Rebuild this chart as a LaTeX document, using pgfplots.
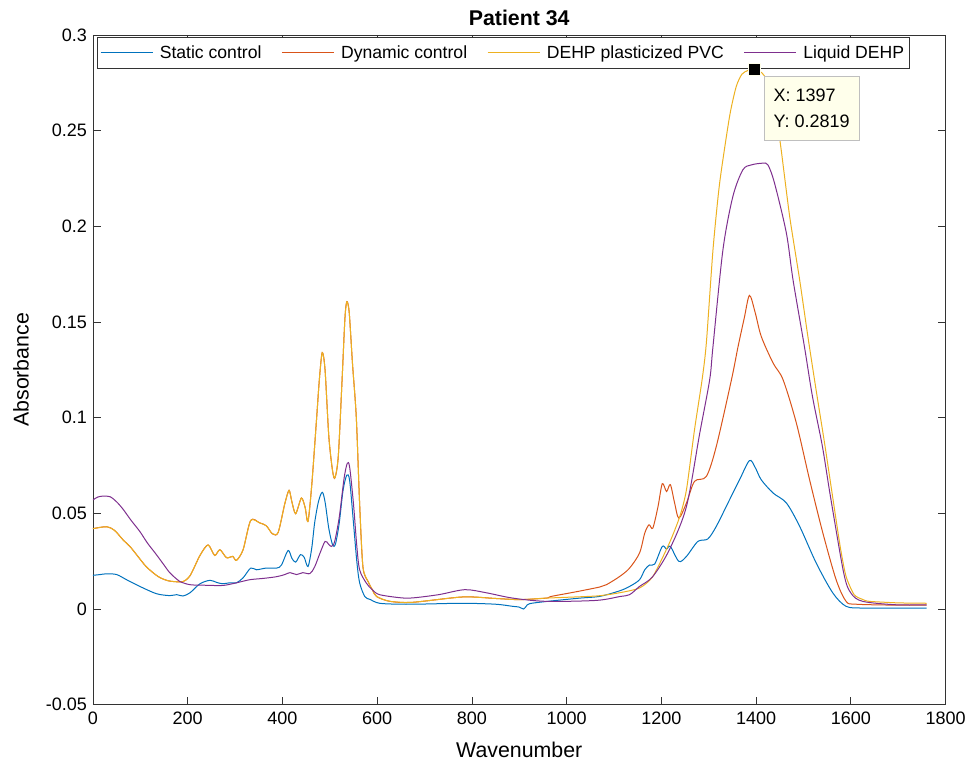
\documentclass[border=0pt]{standalone}
\usepackage{fontspec}
\setmainfont{Liberation Sans}
\usepackage{pgfplots}
\pgfplotsset{compat=1.18}
\definecolor{mblue}{rgb}{0,0.447,0.741}
\definecolor{mred}{rgb}{0.85,0.325,0.098}
\definecolor{morange}{rgb}{0.929,0.694,0.125}
\definecolor{mpurple}{rgb}{0.494,0.184,0.556}
\definecolor{tipfill}{rgb}{1,1,0.92}
\pgfdeclarelayer{tip}
\pgfplotsset{
  layers/tiplayers/.define layer set={axis background,axis grid,axis ticks,axis lines,axis tick labels,pre main,main,axis descriptions,axis foreground,tip}{},
  lgimg/.style={legend image code/.code={\draw[draw=#1, line width=0.75pt] (7pt,0pt) -- (46pt,0pt);}}}
\begin{document}
\begin{tikzpicture}
\path (-69.75pt,-48pt) rectangle (657.75pt,528.75pt);
\begin{axis}[
  set layers=tiplayers, clip mode=individual,
  scale only axis, width=639.75pt, height=502.5pt,
  xmin=0, xmax=1800, ymin=-0.05, ymax=0.3,
  xtick={0,200,400,600,800,1000,1200,1400,1600,1800},
  xticklabels={0,200,400,600,800,1000,1200,1400,1600,1800},
  ytick={-0.05,0,0.05,0.1,0.15,0.2,0.25,0.3},
  yticklabels={-0.05,0,0.05,0.1,0.15,0.2,0.25,0.3},
  tick align=inside, tick pos=both, major tick length=6pt,
  tick style={color=black!80, line width=0.5pt},
  axis line style={color=black!80, line width=0.6pt},
  ticklabel style={font=\fontsize{13.5}{16}\selectfont},
  xticklabel style={yshift=-2pt},
  yticklabel style={xshift=-1pt},
  xlabel={Wavenumber}, ylabel={Absorbance},
  every axis x label/.style={at={(axis description cs:0.5,0)}, anchor=center, yshift=-34pt, font=\fontsize{16}{19}\selectfont},
  every axis y label/.style={at={(axis description cs:0,0.5)}, anchor=center, xshift=-54pt, rotate=90, font=\fontsize{16}{19}\selectfont},
  title={\textbf{Patient 34}},
  every axis title/.style={at={(axis description cs:0.5,1)}, anchor=center, yshift=13pt, font=\fontsize{16}{19}\selectfont},
  legend columns=4,
  legend style={at={(axis description cs:0.005,0.997)}, anchor=north west, draw=black!80, fill=white,
    font=\fontsize{13.2}{15}\selectfont, inner xsep=2pt, inner ysep=4pt,
    /tikz/every odd column/.append style={column sep=3pt},
    /tikz/every even column/.append style={column sep=13pt}},
  every axis plot/.append style={line width=0.75pt},
]
% Static control
\addplot[color=mblue, lgimg=mblue, smooth, tension=0.5] coordinates {
(0,0.0176)(15,0.0180)(29,0.0184)(50,0.0180)(71,0.0153)(99,0.0118)(134,0.0080)(162,0.0070)(177,0.0075)(190,0.0068)
(205,0.0085)(226,0.0132)(247,0.0150)(261,0.0139)(274,0.0132)(289,0.0137)(303,0.0137)(317,0.0163)(333,0.0214)(345,0.0205)
(366,0.0214)(388,0.0214)(398,0.0230)(412,0.0306)(420,0.0265)(428,0.0245)(438,0.0284)(446,0.0270)(454,0.0222)(462,0.0320)
(468,0.0450)(476,0.0560)(484,0.0610)(490,0.0560)(498,0.0420)(506,0.0335)(512,0.0340)(520,0.0450)(528,0.0620)(536,0.0700)
(542,0.0670)(550,0.0450)(557,0.0250)(563,0.0137)(574,0.0065)(585,0.0050)(605,0.0030)(650,0.0025)(700,0.0026)(781,0.0030)
(850,0.0025)(886,0.0014)(900,0.0010)(909,0.0000)(915,0.0015)(922,0.0028)(960,0.0040)(1028,0.0057)(1070,0.0066)(1112,0.0095)
(1133,0.0118)(1154,0.0153)(1165,0.0205)(1175,0.0230)(1186,0.0235)(1202,0.0327)(1211,0.0313)(1219,0.0327)(1237,0.0249)(1253,0.0275)
(1277,0.0353)(1298,0.0366)(1316,0.0432)(1344,0.0571)(1365,0.0675)(1386,0.0776)(1398,0.0740)(1411,0.0675)(1436,0.0606)(1464,0.0554)
(1492,0.0432)(1527,0.0240)(1562,0.0084)(1590,0.0014)(1625,0.0005)(1700,0.0005)(1760,0.0005)
};
\addlegendentry{Static control}
% Dynamic control
\addplot[color=mred, lgimg=mred, smooth, tension=0.5] coordinates {
(0,0.0420)(29,0.0430)(46,0.0410)(64,0.0360)(78,0.0327)(92,0.0284)(113,0.0220)(138,0.0169)(158,0.0148)(173,0.0143)
(190,0.0143)(205,0.0174)(226,0.0280)(243,0.0335)(257,0.0280)(268,0.0310)(282,0.0268)(295,0.0275)(303,0.0254)(317,0.0310)
(333,0.0463)(352,0.0450)(366,0.0435)(379,0.0393)(391,0.0400)(405,0.0550)(414,0.0620)(420,0.0560)(428,0.0498)(440,0.0580)
(448,0.0530)(454,0.0458)(462,0.0650)(472,0.0990)(478,0.1200)(484,0.1340)(490,0.1250)(498,0.0900)(506,0.0720)(511,0.0686)
(518,0.0800)(526,0.1200)(532,0.1520)(536,0.1606)(541,0.1550)(548,0.1280)(556,0.1000)(563,0.0550)(570,0.0220)(581,0.0143)
(590,0.0100)(599,0.0065)(627,0.0040)(675,0.0035)(781,0.0063)(850,0.0055)(901,0.0049)(957,0.0057)
(968,0.0066)(1020,0.0090)(1070,0.0115)(1084,0.0127)(1112,0.0170)(1133,0.0214)(1154,0.0293)(1165,0.0397)(1174,0.0440)(1182,0.0423)
(1193,0.0536)(1202,0.0655)(1211,0.0614)(1219,0.0650)(1228,0.0554)(1237,0.0475)(1253,0.0554)(1270,0.0667)(1295,0.0693)(1316,0.0850)
(1348,0.1198)(1362,0.1372)(1375,0.1520)(1386,0.1639)(1398,0.1550)(1411,0.1424)(1436,0.1285)(1457,0.1198)(1485,0.0972)(1513,0.0675)
(1541,0.0397)(1569,0.0153)(1590,0.0040)(1611,0.0025)(1700,0.0020)(1760,0.0020)
};
\addlegendentry{Dynamic control}
% DEHP plasticized PVC
\addplot[color=morange, lgimg=morange, smooth, tension=0.4] coordinates {
(0,0.0420)(29,0.0430)(46,0.0410)(64,0.0360)(78,0.0327)(92,0.0284)(113,0.0220)(138,0.0169)(158,0.0148)(173,0.0143)
(190,0.0143)(205,0.0174)(226,0.0280)(243,0.0335)(257,0.0280)(268,0.0310)(282,0.0268)(295,0.0275)(303,0.0254)(317,0.0310)
(333,0.0463)(352,0.0450)(366,0.0435)(379,0.0393)(391,0.0400)(405,0.0550)(414,0.0620)(420,0.0560)(428,0.0498)(440,0.0580)
(448,0.0530)(454,0.0458)(462,0.0650)(472,0.0990)(478,0.1200)(484,0.1340)(490,0.1250)(498,0.0900)(506,0.0720)(511,0.0686)
(518,0.0800)(526,0.1200)(532,0.1520)(536,0.1606)(541,0.1550)(548,0.1280)(556,0.1000)(563,0.0550)(570,0.0220)(581,0.0143)
(590,0.0100)(599,0.0065)(627,0.0040)(675,0.0035)(781,0.0063)(850,0.0055)(901,0.0049)(957,0.0057)(1063,0.0068)(1112,0.0085)
(1154,0.0110)(1182,0.0170)(1217,0.0345)(1239,0.0484)(1253,0.0623)(1270,0.0937)(1286,0.1198)(1295,0.1390)(1309,0.1877)(1323,0.2225)
(1344,0.2574)(1358,0.2730)(1370,0.2795)(1383,0.2815)(1397,0.2819)(1408,0.2810)(1418,0.2785)(1432,0.2700)(1443,0.2574)(1453,0.2400)(1471,0.2050)(1492,0.1720)(1509,0.1430)(1527,0.1140)
(1545,0.0860)(1562,0.0580)(1578,0.0320)(1590,0.0170)(1607,0.0075)(1625,0.0050)(1639,0.0040)(1700,0.0032)(1760,0.0030)
};
\addlegendentry{DEHP plasticized PVC}
% Liquid DEHP
\addplot[color=mpurple, lgimg=mpurple, smooth, tension=0.5] coordinates {
(0,0.0570)(10,0.0585)(21,0.0590)(36,0.0587)(50,0.0560)(64,0.0520)(80,0.0465)(99,0.0405)(115,0.0345)(134,0.0284)
(150,0.0230)(162,0.0190)(175,0.0160)(183,0.0144)(205,0.0127)(240,0.0124)(274,0.0123)(300,0.0135)(331,0.0153)(360,0.0160)
(388,0.0169)(405,0.0180)(416,0.0190)(430,0.0180)(443,0.0190)(458,0.0185)(468,0.0220)(479,0.0290)(490,0.0353)(497,0.0340)
(503,0.0327)(510,0.0350)(520,0.0480)(530,0.0680)(537,0.0762)(542,0.0740)(550,0.0550)(557,0.0330)(563,0.0205)(577,0.0136)
(590,0.0100)(605,0.0075)(648,0.0059)(675,0.0058)(730,0.0075)(785,0.0101)(830,0.0085)(886,0.0057)(957,0.0040)(1063,0.0045)
(1112,0.0065)(1133,0.0075)(1154,0.0118)(1182,0.0170)(1217,0.0310)(1253,0.0536)(1281,0.0918)(1302,0.1198)(1309,0.1372)(1330,0.1877)
(1351,0.2156)(1372,0.2295)(1390,0.2321)(1414,0.2330)(1425,0.2321)(1439,0.2225)(1464,0.1964)(1478,0.1720)(1502,0.1372)(1519,0.1111)
(1540,0.0850)(1557,0.0588)(1585,0.0188)(1600,0.0084)(1625,0.0040)(1696,0.0022)(1760,0.0022)
};
\addlegendentry{Liquid DEHP}
% data tip
\addplot[on layer=tip, only marks, mark=square*, mark size=4.5pt, mark options={fill=black, draw=tipfill, line width=0.6pt}, forget plot] coordinates {(1397,0.2819)};
\node[anchor=north west, draw=black!25, fill=tipfill, align=left, inner xsep=7pt, inner ysep=9pt,
  font=\fontsize{13.5}{20}\selectfont, xshift=7pt, yshift=-5pt] at (axis cs:1397,0.2819) {X: 1397\\Y: 0.2819};
\end{axis}
\end{tikzpicture}
\end{document}
